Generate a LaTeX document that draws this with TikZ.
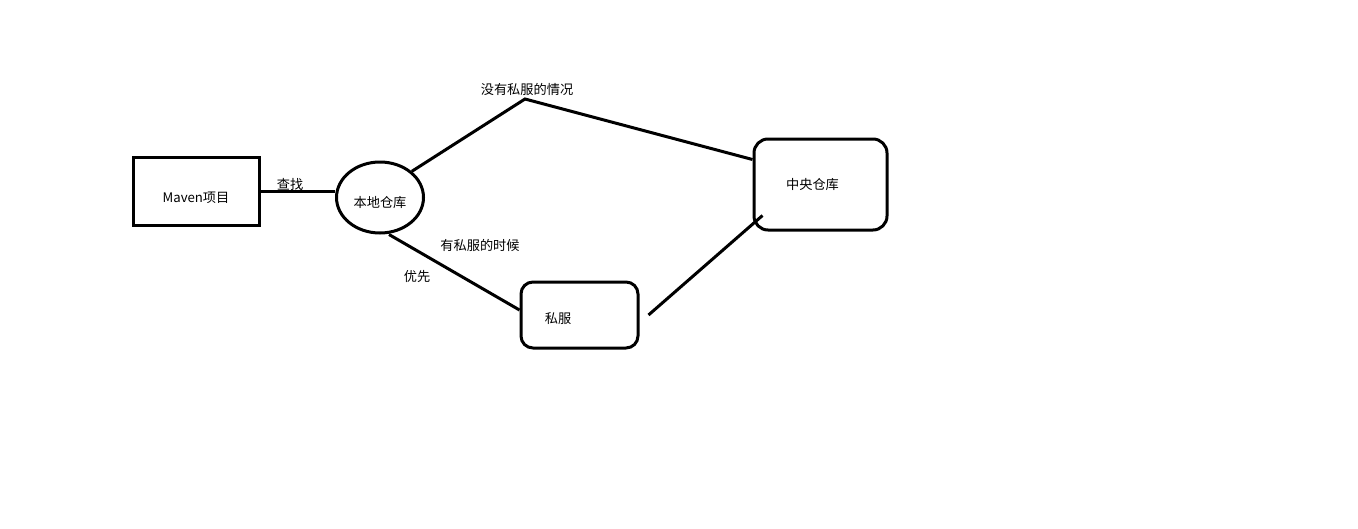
\documentclass[tikz,border=0pt]{standalone}
\usepackage{fontspec}
\setmainfont{Noto Sans CJK SC}
\usetikzlibrary{shapes.geometric}

\begin{document}
\begin{tikzpicture}[x=1pt,y=-1pt,
	every node/.style={font=\fontsize{13.2}{15}\selectfont,inner sep=0pt},
	conn/.style={line width=3pt},
	projbox/.style={draw,line width=3pt,minimum width=126pt,minimum height=68pt},
	repobox/.style={draw,line width=3pt,rounded corners=14pt},
	localrepo/.style={draw,ellipse,line width=3pt,minimum width=87pt,minimum height=71pt}]
	\useasboundingbox (0,0) rectangle (1358,528);
	% the four stores
	\node[projbox,label={[yshift=-7pt]center:Maven项目}] (maven) at (196,191) {};
	\node[localrepo,label={[yshift=-5.5pt]center:本地仓库}] (local) at (380,197.5) {};
	\node[repobox,minimum width=133pt,minimum height=91pt,label={[xshift=-8pt]center:中央仓库}] (central) at (820.5,184.5) {};
	\node[repobox,minimum width=117pt,minimum height=66pt,rounded corners=12pt,label={[xshift=-21.5pt,yshift=-4pt]center:私服}] (sifu) at (579.5,315) {};
	\coordinate (peak) at (525,99);
	% links
	\draw[conn] (maven.east) -- (maven.east -| local.west);
	\draw[conn] (local.north east) -- (peak) -- ([yshift=25pt]central.west);
	\draw[conn] ([xshift=9pt]local.south) -- ([yshift=5pt]sifu.west);
	\draw[conn] ([xshift=9pt]sifu.east) -- ([shift={(10pt,16pt)}]central.south west);
	% labels
	\node (findlbl) at (290,184) {查找};
	\node (nolbl) at (527,89) {没有私服的情况};
	\node (withlbl) at (480,245) {有私服的时候};
	\node (firstlbl) at (417,277) {优先};
\end{tikzpicture}
\end{document}
